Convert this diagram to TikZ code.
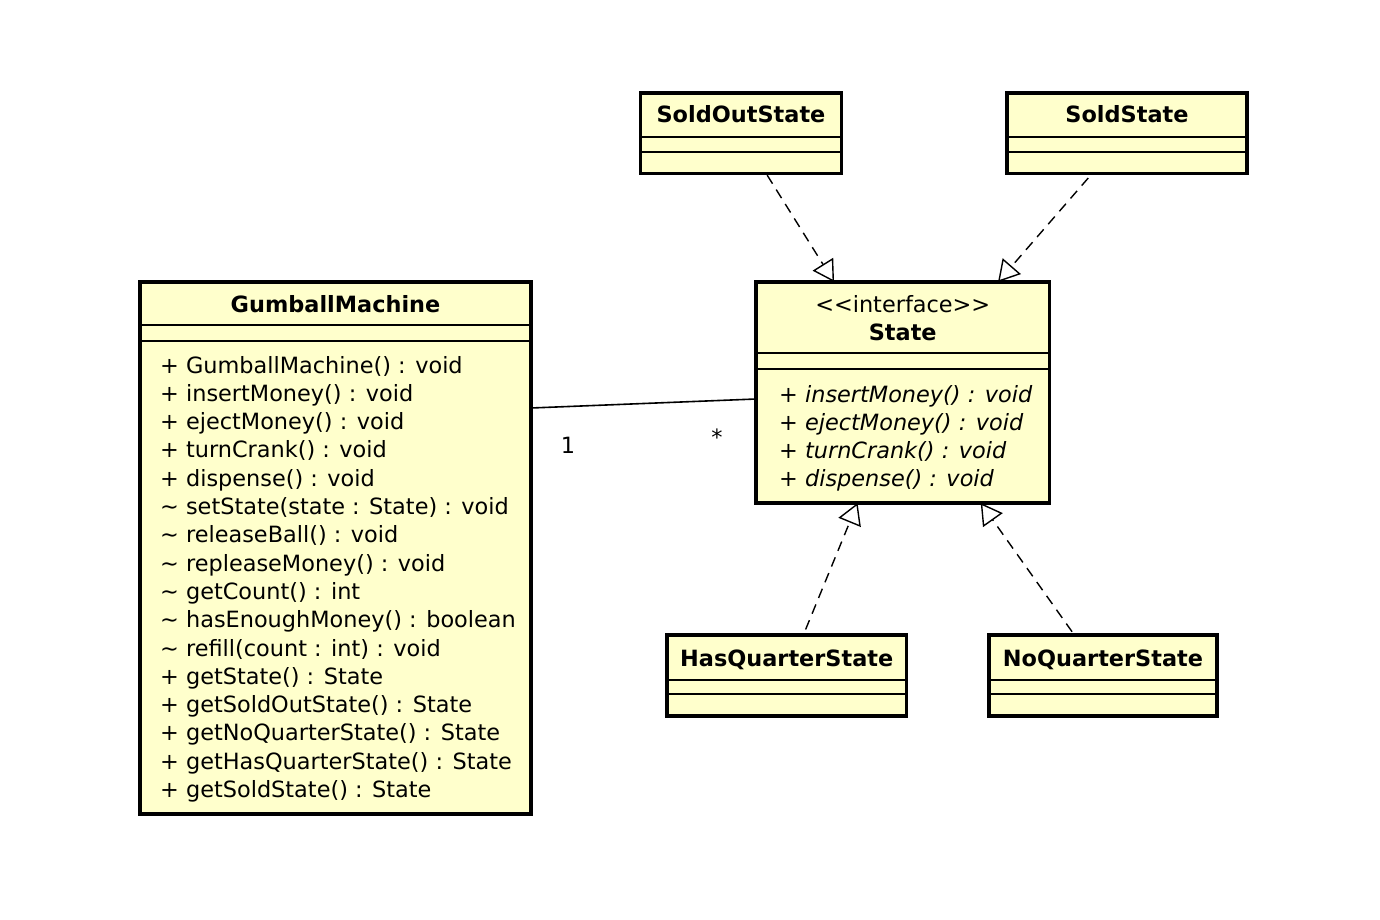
\documentclass[tikz,border=0pt]{standalone}
\usepackage{fontspec}
\setmainfont{DejaVu Sans}
\usetikzlibrary{arrows.meta,calc}
\definecolor{clsfill}{RGB}{255,255,204}
\begin{document}
\begin{tikzpicture}[x=1pt,y=-1pt,
  cls/.style={draw=black, line width=3.5pt, fill=clsfill, inner sep=0pt, outer sep=0pt, rectangle},
  divider/.style={line width=1.3pt},
  txt/.style={inner sep=0pt, anchor=base west, font=\fontsize{22.4}{27}\selectfont},
  ttl/.style={inner sep=0pt, anchor=base, font=\fontsize{22.4}{27}\selectfont\bfseries},
  lbl/.style={inner sep=0pt, anchor=center, font=\fontsize{22.4}{27}\selectfont},
  realize/.style={line width=1.4pt, dash pattern=on 10pt off 7pt, -{Triangle[open, length=21pt, width=24pt, line width=1.4pt]}},
  assoc/.style={line width=1.6pt}
]
\useasboundingbox (0,0) rectangle (1380,920);

% GumballMachine
\node[cls, minimum width=391pt, minimum height=532pt] (gm) at (335.5,548) {};
\node[ttl] (gmtitle) at (335.5,312) {GumballMachine};
\draw[divider] (gm.west |- 0,325) -- (gm.east |- 0,325);
\draw[divider] (gm.west |- 0,341) -- (gm.east |- 0,341);
\foreach [count=\i] \t in {
  + GumballMachine() : void,
  + insertMoney() : void,
  + ejectMoney() : void,
  + turnCrank() : void,
  + dispense() : void,
  \textasciitilde\ setState(state : State) : void,
  \textasciitilde\ releaseBall() : void,
  \textasciitilde\ repleaseMoney() : void,
  \textasciitilde\ getCount() : int,
  \textasciitilde\ hasEnoughMoney() : boolean,
  \textasciitilde\ refill(count : int) : void,
  + getState() : State,
  + getSoldOutState() : State,
  + getNoQuarterState() : State,
  + getHasQuarterState() : State,
  + getSoldState() : State}
  \node[txt] (gmm\i) at (160,{373+28.3*(\i-1)}) {\t};

% State interface
\node[cls, minimum width=293.5pt, minimum height=221pt] (state) at (902.75,392.5) {};
\node[lbl, anchor=base] (stster) at (902.75,312) {<\kern0pt<interface>\kern0pt>};
\node[ttl] (sttitle) at (902.75,340) {State};
\draw[divider] (state.west |- 0,353) -- (state.east |- 0,353);
\draw[divider] (state.west |- 0,369) -- (state.east |- 0,369);
\foreach [count=\i] \t in {
  + insertMoney() : void,
  + ejectMoney() : void,
  + turnCrank() : void,
  + dispense() : void}
  \node[txt, font=\fontsize{22.4}{27}\selectfont\itshape] (stm\i) at (779,{402+28.3*(\i-1)}) {\t};

% SoldOutState
\node[cls, minimum width=201pt, minimum height=80.5pt] (soldout) at (741,133.25) {};
\node[ttl] (sotitle) at (741,123) {SoldOutState};
\draw[divider] (soldout.west |- 0,137) -- (soldout.east |- 0,137);
\draw[divider] (soldout.west |- 0,152) -- (soldout.east |- 0,152);

% SoldState
\node[cls, minimum width=240pt, minimum height=80.5pt] (sold) at (1127,133.25) {};
\node[ttl] (stitle) at (1127,123) {SoldState};
\draw[divider] (sold.west |- 0,137) -- (sold.east |- 0,137);
\draw[divider] (sold.west |- 0,152) -- (sold.east |- 0,152);

% HasQuarterState
\node[cls, minimum width=239.5pt, minimum height=81pt] (hasq) at (786.75,675.5) {};
\node[ttl] (hqtitle) at (786.75,666) {HasQuarterState};
\draw[divider] (hasq.west |- 0,680) -- (hasq.east |- 0,680);
\draw[divider] (hasq.west |- 0,694) -- (hasq.east |- 0,694);

% NoQuarterState
\node[cls, minimum width=228pt, minimum height=81pt] (noq) at (1103,675.5) {};
\node[ttl] (nqtitle) at (1103,666) {NoQuarterState};
\draw[divider] (noq.west |- 0,680) -- (noq.east |- 0,680);
\draw[divider] (noq.west |- 0,694) -- (noq.east |- 0,694);

% connectors
\draw[assoc] ($(gm.north east)+(0,126)$) coordinate (a1) -- ($(state.north west)+(0,117)$) coordinate (a2);
\node[lbl] (m1) at (568,445) {1};
\node[lbl] (m2) at (717,437) {*};

\draw[realize, shorten <=2pt] (soldout) -- (state);
\draw[realize, shorten <=6pt] (sold) -- (state);
\draw[realize, shorten <=6pt] (hasq) -- (state);
\draw[realize, shorten <=4pt] (noq) -- (state);
\end{tikzpicture}
\end{document}
